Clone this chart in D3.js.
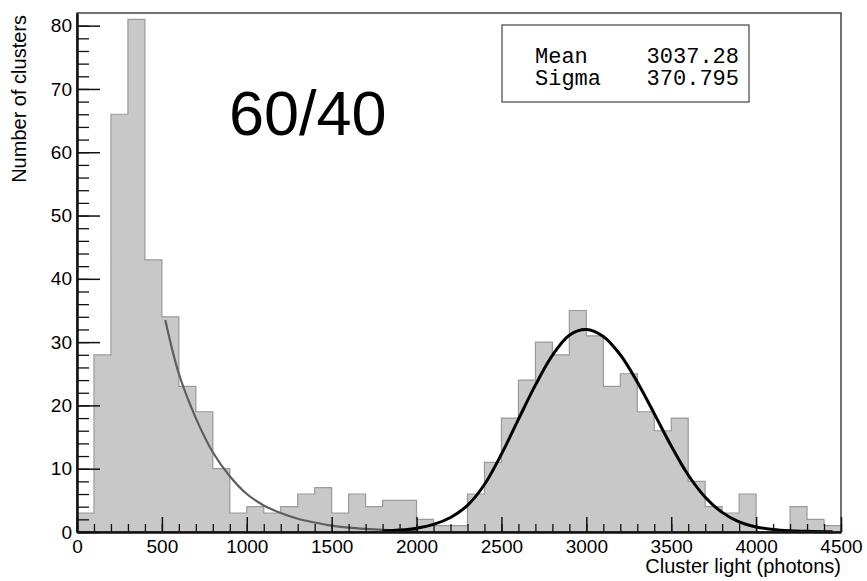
<!DOCTYPE html>
<meta charset="utf-8">
<script src="https://cdn.jsdelivr.net/npm/d3@7/dist/d3.min.js"></script>
<style>
    body { margin: 0; background: #fff; }
    text { font-family: "Liberation Sans", Arial, sans-serif; }
    .axis path, .axis line { stroke: #111; }
    .axis text { font-size: 19px; fill: #000; }
</style>
<body>
<div id="chart"></div>
<script>

    // histogram: 100-photon bins from 0 to 4500
    var binWidth = 100
    var counts = [3, 28, 66, 81, 43, 34, 23, 19, 10, 3,
                  4, 3, 4, 6, 7, 3, 6, 4, 5, 5,
                  2, 1, 1, 6, 11, 18, 24, 30, 28, 35,
                  31, 23, 25, 19, 16, 18, 8, 4, 3, 6,
                  0, 0, 4, 2, 1]

    // exponential fit (grey)
    var expX = [520, 600, 700, 800, 900, 1000, 1100, 1200, 1300, 1400, 1500, 1600, 1700, 1800, 1900, 2000]
    var expY = [33.5, 25, 18, 12.6, 8.8, 6.0, 4.2, 3.0, 2.1, 1.5, 1.0, 0.7, 0.5, 0.35, 0.25, 0.15]

    // gaussian fit (black)
    var gausX = [1800, 1900, 2000, 2100, 2200, 2300, 2400, 2500, 2600, 2700, 2800, 2900, 3000,
                 3100, 3200, 3300, 3400, 3500, 3600, 3700, 3800, 3900, 4000, 4100, 4200, 4300, 4400, 4450]
    var gausY = [0.15, 0.3, 0.6, 1.2, 2.3, 4.2, 7.5, 12.3, 17.8, 23.2, 27.9, 31.1, 32.0,
                 30.9, 28.0, 23.7, 18.7, 13.6, 9.0, 5.5, 3.1, 1.6, 0.8, 0.4, 0.2, 0.1, 0.05, 0.03]

    var statLabels = ["Mean", "Sigma"]
    var statValues = ["3037.28", "370.795"]
    var tagText = "60/40"

    var W = 867, H = 581
    var padL = 77, padR = 841, padT = 13, padB = 532

    var svg = d3.select("#chart").append("svg").attr("width", W).attr("height", H)

    var x = d3.scaleLinear().domain([0, 4500]).range([padL, padR])
    var y = d3.scaleLinear().domain([0, 82]).range([padB, padT])

    // step points for the histogram
    var steps = counts.map((c, i) => [i * binWidth, c])
    steps.push([counts.length * binWidth, counts[counts.length - 1]])

    var area = d3.area().curve(d3.curveStepAfter).x(d => x(d[0])).y0(y(0)).y1(d => y(d[1]))
    svg.append("path").datum(steps).attr("d", area).style("fill", "#c8c8c8")

    var outline = [[0, 0]].concat(steps).concat([[counts.length * binWidth, 0]])
    var stepLine = d3.line().curve(d3.curveStepAfter).x(d => x(d[0])).y(d => y(d[1]))
    svg.append("path").datum(outline).attr("d", stepLine)
        .style("fill", "none").style("stroke", "#9a9a9a").style("stroke-width", 1.2)

    // fit curves
    var smooth = d3.line().curve(d3.curveCatmullRom).x(d => x(d[0])).y(d => y(d[1]))
    svg.append("path").datum(expX.map((v, i) => [v, expY[i]])).attr("d", smooth)
        .style("fill", "none").style("stroke", "#5e5e5e").style("stroke-width", 2.2)
    svg.append("path").datum(gausX.map((v, i) => [v, gausY[i]])).attr("d", smooth)
        .style("fill", "none").style("stroke", "#000").style("stroke-width", 3)

    // frame
    svg.append("rect").attr("x", padL).attr("y", padT).attr("width", padR - padL).attr("height", padB - padT)
        .style("fill", "none").style("stroke", "#444").style("stroke-width", 1.5)

    // axes, ROOT style ticks pointing inward
    var xMinor = svg.append("g").attr("class", "axis").attr("transform", "translate(0," + padB + ")")
        .call(d3.axisBottom(x).tickValues(d3.range(0, 4501, 100)).tickSize(-8).tickFormat(""))
    xMinor.select(".domain").remove()
    xMinor.selectAll("line").style("stroke-width", 1.3)
    var xMajor = svg.append("g").attr("class", "axis").attr("transform", "translate(0," + padB + ")")
        .call(d3.axisBottom(x).tickValues(d3.range(0, 4501, 500)).tickSize(-15).tickSizeOuter(0).tickPadding(5).tickFormat(d3.format("d")))
    xMajor.select(".domain").style("stroke-width", 2.5)
    xMajor.selectAll("line").style("stroke-width", 1.5)
    xMajor.selectAll("text").attr("y", 21).attr("dy", 0)

    var yMinor = svg.append("g").attr("class", "axis").attr("transform", "translate(" + padL + ",0)")
        .call(d3.axisLeft(y).tickValues(d3.range(0, 81, 2)).tickSize(-12).tickFormat(""))
    yMinor.select(".domain").remove()
    yMinor.selectAll("line").style("stroke-width", 1.3)
    var yMajor = svg.append("g").attr("class", "axis").attr("transform", "translate(" + padL + ",0)")
        .call(d3.axisLeft(y).tickValues(d3.range(0, 81, 10)).tickSize(-23).tickSizeOuter(0).tickPadding(5))
    yMajor.select(".domain").style("stroke-width", 2.5)
    yMajor.selectAll("line").style("stroke-width", 1.5)

    // axis titles
    svg.append("text").attr("x", padR).attr("y", 573).style("text-anchor", "end")
        .style("font-size", "20px").text("Cluster light (photons)")
    svg.append("text").attr("transform", "translate(26," + 15 + ") rotate(-90)").style("text-anchor", "end")
        .style("font-size", "20px").text("Number of clusters")

    // big label
    svg.append("text").attr("x", 229).attr("y", 135).style("font-size", "63px").text(tagText)

    // stats box
    svg.append("rect").attr("x", 502).attr("y", 25).attr("width", 247).attr("height", 77)
        .style("fill", "#fff").style("stroke", "#444").style("stroke-width", 1.2)
    statLabels.forEach((lab, i) => {
        svg.append("text").attr("x", 535).attr("y", 63 + 22 * i).text(lab)
            .style("font-family", "'Courier New', 'Liberation Mono', monospace").style("font-size", "22px")
        svg.append("text").attr("x", 739).attr("y", 63 + 22 * i).text(statValues[i]).style("text-anchor", "end")
            .style("font-family", "'Courier New', 'Liberation Mono', monospace").style("font-size", "22px")
    })

</script>
</body>
</html>
